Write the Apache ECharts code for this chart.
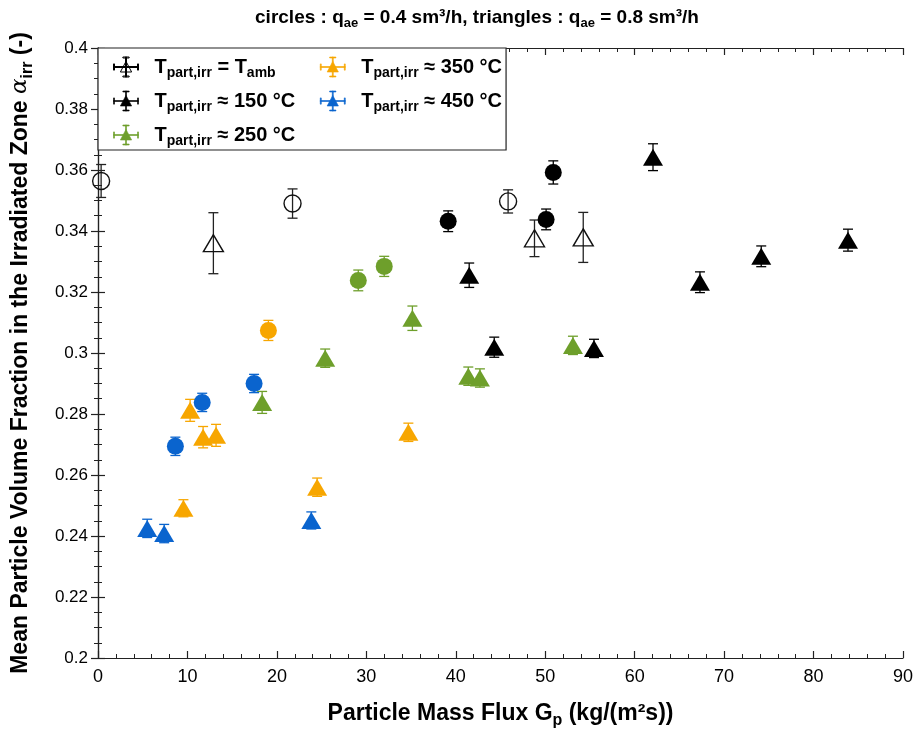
<!DOCTYPE html>
<html>
<head>
<meta charset="utf-8">
<script src="https://cdn.jsdelivr.net/npm/echarts@6/dist/echarts.min.js"></script>
<style>
  html, body { margin: 0; padding: 0; background: #fff; }
  #chart { width: 917px; height: 729px; }
</style>
</head>
<body>
<div id="chart"></div>
<script>
// [Gp, alpha, error]
const ambientCircles = [[0.35, 0.3564, 0.0054], [21.75, 0.349, 0.0048], [45.85, 0.3497, 0.0038]]
const ambientTriangles = [[12.9, 0.336, 0.010], [48.8, 0.3376, 0.006], [54.25, 0.3379, 0.0082]]
const t150Circles = [[39.15, 0.3432, 0.0034], [50.1, 0.3438, 0.0034], [50.9, 0.3592, 0.0038]]
const t150Triangles = [[41.5, 0.3255, 0.004], [44.3, 0.3019, 0.0033], [55.45, 0.3015, 0.003],
  [62.05, 0.3642, 0.0044], [67.3, 0.3232, 0.0034], [74.15, 0.3317, 0.0034], [83.85, 0.337, 0.0036]]
const t250Circles = [[29.1, 0.3238, 0.0034], [32.0, 0.3284, 0.0033]]
const t250Triangles = [[18.35, 0.2838, 0.0036], [25.4, 0.2983, 0.003], [35.15, 0.3114, 0.004],
  [41.4, 0.2924, 0.003], [42.7, 0.2918, 0.003], [53.1, 0.3025, 0.003]]
const t350Circles = [[19.05, 0.3074, 0.0033]]
const t350Triangles = [[9.55, 0.2491, 0.0028], [10.3, 0.2812, 0.0036], [11.75, 0.2724, 0.0035],
  [13.2, 0.273, 0.0036], [24.5, 0.256, 0.003], [34.7, 0.274, 0.003]]
const t450Circles = [[8.65, 0.2694, 0.003], [11.65, 0.2838, 0.003], [17.45, 0.29, 0.003]]
const t450Triangles = [[5.5, 0.2425, 0.003], [7.4, 0.2408, 0.003], [23.85, 0.2451, 0.0028]]

const xTicks = [0, 10, 20, 30, 40, 50, 60, 70, 80, 90]
const yTicks = [0.2, 0.22, 0.24, 0.26, 0.28, 0.3, 0.32, 0.34, 0.36, 0.38, 0.4]

const groups = [
  { name: 'amb', color: '#000000', open: true, circles: ambientCircles, triangles: ambientTriangles },
  { name: '150', color: '#000000', open: false, circles: t150Circles, triangles: t150Triangles },
  { name: '250', color: '#6E9F2B', open: false, circles: t250Circles, triangles: t250Triangles },
  { name: '350', color: '#F7A600', open: false, circles: t350Circles, triangles: t350Triangles },
  { name: '450', color: '#0A64CE', open: false, circles: t450Circles, triangles: t450Triangles }
]

const FONT = 'Liberation Sans, Arial, sans-serif'

// rich styles for text with subscripts, size = main font size
function subRich (size) {
  const lh = Math.round(size * 1.35)
  return {
    b: { fontFamily: FONT, fontWeight: 'bold', fontSize: size, color: '#000', lineHeight: lh, verticalAlign: 'middle' },
    s: { fontFamily: FONT, fontWeight: 'bold', fontSize: Math.round(size * 0.7), color: '#000', lineHeight: lh, padding: [Math.round(size * 0.6), 0, 0, 0], verticalAlign: 'middle' },
    a: { fontFamily: 'DejaVu Serif, serif', fontStyle: 'italic', fontSize: size, color: '#000', lineHeight: lh, verticalAlign: 'middle' },
    g: { width: 10 },
    e: { fontFamily: FONT, fontSize: size }
  }
}

// legend icon: triangle with error bars both ways
const legendIcon = 'path://M10,3.5 L14.5,12 L5.5,12 Z M9.6,0 h0.8 v16 h-0.8 Z M7.5,0 h5 v0.8 h-5 Z M7.5,15.2 h5 v0.8 h-5 Z ' +
  'M0,7.6 h20 v0.8 h-20 Z M0,5.5 h0.8 v5 h-0.8 Z M19.2,5.5 h0.8 v5 h-0.8 Z'

const pad = '\u00a0\u00a0\u00a0'
const legendText = {
  amb: '{g|}{b|T}{s|part,irr}{b| = T}{s|amb}{e|' + pad + '}',
  150: '{g|}{b|T}{s|part,irr}{b| ≈ 150 °C}{e|' + pad + '}',
  250: '{g|}{b|T}{s|part,irr}{b| ≈ 250 °C}{e|' + pad + '}',
  350: '{g|}{b|T}{s|part,irr}{b| ≈ 350 °C}',
  450: '{g|}{b|T}{s|part,irr}{b| ≈ 450 °C}'
}

function renderErr (params, api) {
  const x = api.value(0)
  const lo = api.coord([x, api.value(1)])
  const hi = api.coord([x, api.value(2)])
  const w = 5
  const style = { stroke: api.visual('color'), lineWidth: 1.3, fill: null }
  return {
    type: 'group',
    children: [
      { type: 'line', shape: { x1: lo[0], y1: lo[1], x2: hi[0], y2: hi[1] }, style },
      { type: 'line', shape: { x1: lo[0] - w, y1: lo[1], x2: lo[0] + w, y2: lo[1] }, style },
      { type: 'line', shape: { x1: hi[0] - w, y1: hi[1], x2: hi[0] + w, y2: hi[1] }, style }
    ]
  }
}

const series = []
groups.forEach(g => {
  const all = g.circles.concat(g.triangles)
  series.push({
    name: g.name,
    type: 'custom',
    renderItem: renderErr,
    itemStyle: { color: g.open ? '#222' : g.color },
    data: all.map(d => [d[0], d[1] - d[2], d[1] + d[2]]),
    z: 2,
    silent: true
  })
  const markStyle = g.open
    ? { color: 'rgba(255,255,255,0)', borderColor: '#111', borderWidth: 1.4, opacity: 1 }
    : { color: g.color, opacity: 1 }
  series.push({
    name: g.name,
    type: 'scatter',
    symbol: 'circle',
    symbolSize: 17,
    itemStyle: markStyle,
    data: g.circles.map(d => [d[0], d[1]]),
    z: 3
  })
  series.push({
    name: g.name,
    type: 'scatter',
    symbol: 'triangle',
    symbolSize: [20, 17],
    itemStyle: markStyle,
    data: g.triangles.map(d => [d[0], d[1]]),
    z: 3
  })
})

const axisCommon = {
  axisLine: { lineStyle: { color: '#222', width: 1.2 } },
  axisTick: { inside: true, length: 7, lineStyle: { color: '#222', width: 1.2 } },
  minorTick: { show: true, length: 4, lineStyle: { color: '#222', width: 1 } },
  splitLine: { show: false }
}

const chart = echarts.init(document.getElementById('chart'))
chart.setOption({
  animation: false,
  backgroundColor: '#fff',
  title: {
    text: '{b|circles : q}{s|ae}{b| = 0.4 sm³/h, triangles : q}{s|ae}{b| = 0.8 sm³/h}',
    left: 472,
    textAlign: 'center',
    top: 0,
    textStyle: { rich: subRich(19) }
  },
  legend: {
    orient: 'vertical',
    left: 98,
    top: 48,
    height: 96,
    itemWidth: 27,
    itemHeight: 20,
    itemGap: 8,
    padding: [6, 4, 2, 15],
    borderColor: '#222',
    borderWidth: 1.2,
    backgroundColor: '#fff',
    icon: legendIcon,
    data: groups.map(g => ({
      name: g.name,
      icon: legendIcon,
      itemStyle: g.open
        ? { color: '#fff', borderColor: '#000', borderWidth: 1 }
        : { color: g.color, borderColor: g.color, borderWidth: 0.6 }
    })),
    formatter: name => legendText[name],
    textStyle: { rich: subRich(20) }
  },
  grid: { left: 98, right: 14, top: 48, bottom: 71, outerBoundsMode: 'none', containLabel: false },
  xAxis: [
    Object.assign({}, axisCommon, {
      type: 'value',
      min: xTicks[0],
      max: xTicks[xTicks.length - 1],
      interval: xTicks[1] - xTicks[0],
      minorTick: Object.assign({}, axisCommon.minorTick, { splitNumber: 5 }),
      axisLabel: { fontFamily: FONT, fontSize: 18, color: '#000', margin: 10 },
      name: '{b|Particle Mass Flux G}{s|p}{b| (kg/(m²s))}',
      nameLocation: 'middle',
      nameGap: 40,
      nameTextStyle: { rich: subRich(23) }
    }),
    Object.assign({}, axisCommon, {
      type: 'value',
      position: 'top',
      min: xTicks[0],
      max: xTicks[xTicks.length - 1],
      interval: xTicks[1] - xTicks[0],
      minorTick: Object.assign({}, axisCommon.minorTick, { splitNumber: 5 }),
      axisLabel: { show: false }
    })
  ],
  yAxis: [
    Object.assign({}, axisCommon, {
      type: 'value',
      min: yTicks[0],
      max: yTicks[yTicks.length - 1],
      interval: 0.02,
      minorTick: Object.assign({}, axisCommon.minorTick, { splitNumber: 4 }),
      axisLabel: {
        fontFamily: FONT, fontSize: 17, color: '#000', margin: 10,
        formatter: v => String(parseFloat(v.toFixed(2)))
      },
      name: '{b|Mean Particle Volume Fraction in the Irradiated Zone }{a|α}{s|irr}{b| (-)}',
      nameLocation: 'middle',
      nameRotate: 90,
      nameGap: 62,
      nameTextStyle: { rich: subRich(23) }
    }),
    Object.assign({}, axisCommon, {
      type: 'value',
      position: 'right',
      min: yTicks[0],
      max: yTicks[yTicks.length - 1],
      interval: 0.02,
      minorTick: Object.assign({}, axisCommon.minorTick, { splitNumber: 4 }),
      axisLabel: { show: false }
    })
  ],
  series: series
})
</script>
</body>
</html>
